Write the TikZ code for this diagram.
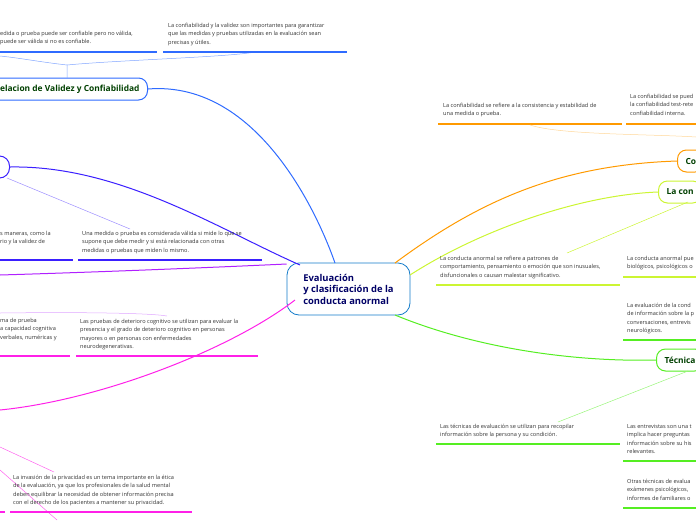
\documentclass[tikz,border=0pt]{standalone}
\usepackage{fontspec}
\setmainfont{Open Sans}
\begin{document}
\begin{tikzpicture}[x=1pt,y=-1pt,
 txt/.style={anchor=north west,inner sep=0pt,align=left,font=\fontsize{5.6}{8.4}\selectfont,text=black!80},
 topic/.style={rounded corners=9pt,line width=1pt,fill=white,inner xsep=8pt,inner ysep=0pt,minimum height=22pt,font=\bfseries\fontsize{8.4}{10}\selectfont,text=green!25!black},
 ul/.style={line width=1.2pt},
 thin/.style={line width=0.5pt}]
\useasboundingbox (0,0) rectangle (696,520);
\clip (0,0) rectangle (696,520);
\definecolor{cblue}{HTML}{2F6BFF}
\definecolor{cpur}{HTML}{3A1FFF}
\definecolor{cvio}{HTML}{B020FF}
\definecolor{cmag}{HTML}{FF20E8}
\definecolor{corg}{HTML}{FF9A00}
\definecolor{cyel}{HTML}{CCF533}
\definecolor{cgrn}{HTML}{55EE22}
% central
\node[rounded corners=12pt,draw=cyan!60!blue,line width=0.8pt,minimum width=123pt,minimum height=52pt,align=left,font=\bfseries\fontsize{9.4}{11.5}\selectfont,text=blue!40!black] (c) at (348.5,289) {Evaluación\\y clasificación de la\\conducta anormal};
% top-left topic
\node[topic,draw=cblue,anchor=east] (rel) at (148,89) {Relacion de Validez y Confiabilidad};
\draw[cblue,line width=1pt] (rel.east) .. controls (260,80) and (320,220) .. (335,263);
\coordinate (rb) at (67,65);
\draw[cblue!60,thin] (67,78) -- (rb) .. controls (40,62) and (20,58) .. (0,56);
\draw[cblue!60,thin] (rb) .. controls (120,60) and (230,57) .. (255,52);
\node[txt] (t1) at (0,31) {edida o prueba puede ser confiable pero no válida,\\ puede ser válida si no es confiable.};
\draw[cblue,ul] (0,52) -- (157,52);
\node[txt] (t2) at (168,23) {La confiabilidad y la validez son importantes para garantizar\\que las medidas y pruebas utilizadas en la evaluación sean\\precisas y útiles.};
\draw[cblue,ul] (163,52) -- (347,52);
% purple
\node[rounded corners=10pt,draw=cpur,line width=1pt,fill=white,minimum width=30pt,minimum height=22pt,anchor=east] (v) at (10,167) {};
\draw[cpur,line width=1pt] (v.east) .. controls (120,165) and (220,230) .. (300,265);
\draw[cpur!50,thin] (7,178) -- (130,229);
\node[txt] (t3) at (0,231) {s maneras, como la\\rio y la validez de};
\draw[cpur,ul] (0,260) -- (73,260);
\node[txt] (t4) at (82,231) {Una medida o prueba es considerada válida si mide lo que se\\supone que debe medir y si está relacionada con otras\\medidas o pruebas que miden lo mismo.};
\draw[cpur,ul] (78,260) -- (262,260);
% violet & magenta
\draw[cvio,line width=1pt] (c.west) ++(0,-25) .. controls (200,268) and (100,272) .. (0,275);
\draw[cmag,line width=1pt] (295,300) .. controls (230,350) and (100,400) .. (0,410);
\draw[cvio!40,thin] (0,313) .. controls (80,312) and (150,313) .. (167,316);
\node[txt] (t5) at (0,318) {ma de prueba\\a capacidad cognitiva\\ verbales, numéricas y};
\draw[cmag,ul] (0,356) -- (70,356);
\node[txt] (t6) at (80,319) {Las pruebas de deterioro cognitivo se utilizan para evaluar la\\presencia y el grado de deterioro cognitivo en personas\\mayores o en personas con enfermedades\\neurodegenerativas.};
\draw[cmag,ul] (76,356) -- (258,356);
\draw[cmag!70,thin] (0,447) -- (54,472);
\draw[cmag!70,thin] (0,470) -- (57,520);
\node[txt] (t7) at (13,475) {La invasión de la privacidad es un tema importante en la ética\\de la evaluación, ya que los profesionales de la salud mental\\deben equilibrar la necesidad de obtener información precisa\\con el derecho de los pacientes a mantener su privacidad.};
\draw[cmag,ul] (0,512) -- (5,512);
\draw[cmag,ul] (10,512) -- (192,512);
% orange
\node[txt] (t8) at (443,103) {La confiabilidad se refiere a la consistencia y estabilidad de\\una medida o prueba.};
\draw[corg,ul] (438,124) -- (622,124);
\node[txt] (t9) at (630,94) {La confiabilidad se pued\\la confiabilidad test-rete\\confiabilidad interna.};
\draw[corg,ul] (626,124) -- (696,124);
\draw[corg!40,thin] (530,125) .. controls (560,135) and (650,134) .. (696,137);
\node[topic,draw=corg,anchor=west] (co) at (677,161) {Co};
\draw[corg,line width=1pt] (395,263) .. controls (480,200) and (560,165) .. (co.west);
% yellow
\node[topic,draw=cyel,anchor=west] (lc) at (658,192) {La con};
\draw[cyel,line width=1pt] (410,275) .. controls (480,230) and (580,195) .. (lc.west);
\draw[cyel,thin] (688,202) -- (567,253);
\node[txt] (t10) at (440,256) {La conducta anormal se refiere a patrones de\\comportamiento, pensamiento o emoción que son inusuales,\\disfuncionales o causan malestar significativo.};
\draw[cyel,ul] (436,285) -- (620,285);
\node[txt] (t11) at (627,256) {La conducta anormal pue\\biológicos, psicológicos o};
\draw[cyel,ul] (623,277) -- (696,277);
% green
\node[txt] (t12) at (627,303) {La evaluación de la cond\\de información sobre la p\\conversaciones, entrevis\\neurológicos.};
\draw[cgrn,ul] (623,340) -- (696,340);
\node[topic,draw=cgrn,anchor=west] (tec) at (656,360) {Técnica};
\draw[cgrn,line width=1pt] (395,315) .. controls (480,350) and (580,362) .. (tec.west);
\draw[cgrn!60,thin] (688,371) -- (558,422);
\node[txt] (t13) at (440,424) {Las técnicas de evaluación se utilizan para recopilar\\información sobre la persona y su condición.};
\draw[cgrn,ul] (436,444) -- (620,444);
\node[txt] (t14) at (627,424) {Las entrevistas son una t\\implica hacer preguntas\\información sobre su his\\relevantes.};
\draw[cgrn,ul] (623,461) -- (696,461);
\node[txt] (t15) at (627,479) {Otras técnicas de evalua\\exámenes psicológicos, \\informes de familiares o};
\draw[cgrn,ul] (623,508) -- (696,508);
\end{tikzpicture}
\end{document}
